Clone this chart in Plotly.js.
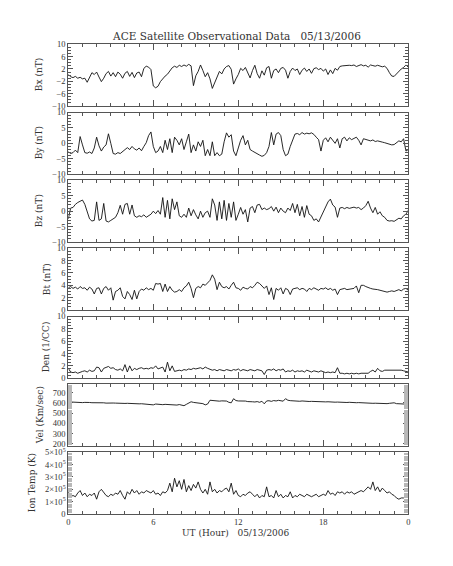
<!DOCTYPE html>
<html>
<head>
<meta charset="utf-8">
<script src="https://cdn.plot.ly/plotly-3.0.1.min.js"></script>
<style>html,body{margin:0;padding:0;background:#fff;}#chart{width:453px;height:566px;}</style>
</head>
<body>
<div id="chart"></div>
<script>
// Sample times: every 10 minutes, 0 to 24 UT hours
const hours = [];
for (let i = 0; i <= 144; i++) hours.push(i / 6);

const bx = [0.2,-0.5,-0.8,-0.4,-1.0,-0.7,-1.2,
 -1.0,-2.3,-0.5,0.8,0.2,1.0,
 -0.6,-2.1,-1.0,0.5,1.2,-0.3,
 0.8,-0.5,1.0,0.3,-1.0,0.6,
 1.2,-0.4,0.9,-0.8,0.7,1.0,
 -0.5,2.2,2.9,2.6,1.8,-3.5,
 -4.1,-3.6,-2.1,-1.0,-0.3,0.3,
 1.5,2.4,2.9,2.5,3.2,2.8,
 3.3,2.9,3.5,3.0,-3.4,-0.2,
 1.2,3.3,1.5,-0.5,0.8,-1.2,
 -4.3,-2.5,-0.8,1.2,0.4,2.0,
 2.8,3.1,1.9,-2.9,-1.2,0.2,
 2.2,1.5,2.5,0.8,-0.9,1.5,
 3.2,0.5,-1.0,1.4,0.0,2.4,
 2.8,-1.0,1.5,2.0,0.8,2.2,
 2.5,1.6,-1.0,1.2,2.3,1.5,
 2.0,0.2,1.6,2.3,1.2,2.0,
 0.6,2.1,2.4,1.8,2.2,1.3,
 2.0,0.2,1.7,0.5,2.2,1.6,
 2.8,3.0,3.1,3.0,3.2,3.1,
 3.3,2.8,3.2,3.4,3.0,3.2,
 2.6,3.3,3.1,2.9,3.2,3.0,
 2.7,2.9,2.2,0.8,-0.3,-0.4,
 0.5,1.2,2.0,2.5,3.3,2.6];

const by = [-2.7,-3.3,-3.0,-2.2,-3.0,2.2,-0.5,
 -3.0,-3.2,-2.8,-3.3,-1.5,2.0,
 -0.8,-2.5,-1.2,-0.5,3.1,0.0,
 -3.3,-3.5,-3.0,-3.3,-2.6,-2.0,
 -1.4,-2.0,-1.0,-1.8,-2.2,-1.5,
 -2.4,-1.0,0.2,2.5,3.7,-1.0,
 -3.0,-2.5,-1.0,-3.0,1.0,-2.0,
 1.5,-3.0,2.0,1.0,-0.5,1.5,
 -2.0,0.5,3.0,-3.0,-0.5,-2.5,
 0.5,-1.0,1.0,-4.0,-2.0,-4.0,
 0.5,-4.0,-3.0,-4.0,-3.5,0.5,
 3.4,2.0,2.8,-2.5,-4.0,-1.5,
 1.0,2.5,-0.5,1.0,-2.0,-2.5,
 -3.0,-3.5,-3.8,-4.2,-3.9,-3.0,
 -1.0,3.5,-0.5,3.0,3.5,2.5,
 -2.0,-4.0,-3.5,-1.0,1.0,3.0,
 3.2,2.8,3.5,3.0,3.3,3.1,
 3.4,2.9,2.0,1.2,-2.5,1.0,
 1.8,0.5,2.0,1.0,0.0,1.5,
 -1.5,1.5,2.0,0.8,1.8,1.2,
 1.5,2.0,1.0,-0.5,1.5,1.2,
 1.0,0.8,1.1,0.6,0.8,0.5,
 0.4,0.2,0.0,-0.3,-0.5,-0.4,
 0.3,0.8,0.5,1.5,-2.5,-2.0];

const bz = [-2.5,1.0,1.2,2.2,2.8,3.3,3.6,
 2.2,-0.5,-2.5,-3.2,-3.0,3.0,
 -3.0,-2.5,2.5,-3.2,-3.5,-3.0,
 -2.5,-2.0,-0.5,1.9,-1.0,2.2,
 2.5,-1.0,2.0,-1.5,-2.0,-1.5,
 -1.8,-1.2,-2.0,-1.5,-1.0,0.0,
 -0.8,0.2,-1.0,4.4,-2.0,3.5,
 -2.5,4.0,0.5,3.0,-1.5,-2.0,
 -1.0,-2.0,1.0,-1.5,0.5,-1.2,
 -2.5,0.0,-2.0,-0.5,0.0,-2.0,
 4.0,2.0,-3.0,3.0,-2.5,3.5,
 -3.0,2.5,-2.0,3.0,-3.0,-1.0,
 1.2,-1.0,0.5,-3.5,1.0,1.5,
 -0.5,2.0,2.2,0.5,1.0,0.5,
 0.8,1.5,0.0,1.3,-0.5,1.0,
 0.0,-0.5,1.0,0.2,2.5,-0.5,
 2.2,-1.5,1.5,-2.0,1.8,-1.0,
 -1.5,-3.0,-2.5,-3.5,-2.0,-0.5,
 1.0,3.0,3.9,2.0,1.3,-2.0,
 1.0,1.2,0.8,1.2,0.9,1.0,
 1.3,1.0,1.2,0.5,1.0,1.8,
 3.2,1.0,-0.5,1.2,-1.0,-0.2,
 -1.5,-2.0,-3.0,-3.2,-3.1,-3.3,
 -2.8,-2.3,-2.5,-1.5,-1.0,0.3];

const bt = [3.6,3.8,3.5,3.7,3.4,3.8,3.5,
 3.6,3.2,3.7,3.4,2.6,3.5,
 3.6,2.6,3.5,3.8,3.2,3.6,
 1.6,3.0,3.2,3.6,2.2,1.8,
 3.0,2.5,1.7,3.2,1.8,3.0,
 3.4,3.2,3.6,3.3,3.5,3.2,
 4.3,4.2,4.3,3.0,4.2,3.0,
 3.8,3.2,2.9,3.0,3.3,3.0,
 3.6,3.9,4.5,3.5,2.0,3.5,
 3.8,3.6,4.2,4.0,4.5,4.8,
 5.7,5.0,3.3,4.5,3.8,3.6,
 3.8,3.4,4.0,4.5,3.6,3.5,
 3.2,3.7,3.5,3.4,3.8,3.6,
 4.0,4.5,4.3,3.8,3.5,3.9,
 2.5,3.6,1.7,3.5,3.2,3.6,
 2.6,3.5,3.3,2.5,3.4,3.5,
 3.6,3.3,3.5,3.4,3.0,3.5,
 3.3,3.6,3.4,3.2,3.5,3.4,
 3.6,3.3,3.5,3.2,3.4,2.5,
 3.3,3.4,3.5,3.3,3.4,3.5,
 3.5,3.9,2.8,4.0,4.0,3.8,
 3.6,3.5,3.4,3.4,3.3,3.2,
 3.1,3.0,2.9,3.0,3.1,3.0,
 3.2,3.3,3.1,3.4,3.5,3.2];

const den = [1.6,1.0,0.9,1.0,0.8,1.0,1.1,
 1.2,1.0,1.3,1.1,1.2,1.8,
 1.7,1.0,1.6,1.8,1.9,1.6,
 1.7,1.4,1.3,1.5,1.2,2.2,
 1.0,2.0,1.2,1.6,1.4,1.6,
 1.7,1.5,1.6,1.5,1.7,1.6,
 2.0,1.5,1.7,1.8,1.0,2.6,
 1.2,2.0,1.1,1.2,1.3,1.2,
 1.4,1.3,1.5,1.4,1.6,1.5,
 1.6,1.7,1.5,1.8,1.6,1.5,
 1.3,1.4,1.2,1.4,1.3,1.2,
 1.4,1.3,1.2,1.4,1.3,1.5,
 1.2,1.4,1.3,1.2,1.4,1.3,
 1.2,1.4,1.3,1.2,0.6,1.3,
 1.4,1.3,1.5,1.2,1.4,1.3,
 1.5,1.0,1.2,1.1,1.3,1.0,
 1.2,1.1,1.2,1.0,1.3,1.1,
 1.0,1.2,1.1,1.0,1.2,1.0,
 0.9,1.0,0.9,1.0,0.9,1.7,
 0.8,0.8,0.7,0.8,0.7,0.8,
 0.7,0.8,0.7,0.8,0.8,0.7,
 0.8,1.1,1.3,1.0,1.6,1.2,
 1.1,1.3,1.3,1.4,1.3,1.3,
 1.4,1.3,1.3,1.2,1.1,1.0];

const vel = [609,607,608,605,603,604,602,
 604,600,603,601,602,599,
 601,598,600,597,599,596,
 598,597,595,598,596,594,
 595,593,596,592,594,590,
 591,588,590,587,586,580,
 588,584,586,582,585,583,
 580,584,581,578,583,576,
 572,585,598,610,604,600,
 603,596,592,580,588,625,
 622,618,620,616,619,615,
 617,605,600,640,622,618,
 620,615,617,612,614,610,
 608,612,605,615,590,618,
 620,614,622,618,624,620,
 616,640,625,621,618,620,
 617,615,618,614,616,613,
 614,612,611,613,610,611,
 609,610,607,608,606,607,
 605,606,604,603,605,602,
 603,601,602,600,601,599,
 598,597,595,596,594,595,
 593,594,592,595,598,600,
 592,590,594,590,588,586];

const temp = [180000,140000,150000,140000,170000,190000,150000,
 170000,140000,160000,150000,170000,120000,
 180000,200000,170000,150000,140000,160000,
 150000,170000,160000,190000,150000,120000,
 180000,160000,200000,170000,190000,160000,
 180000,170000,190000,180000,170000,190000,
 160000,170000,150000,180000,170000,190000,
 250000,180000,290000,220000,270000,200000,
 280000,180000,230000,190000,240000,210000,
 260000,200000,170000,200000,160000,260000,
 180000,200000,170000,190000,180000,200000,
 210000,180000,250000,160000,190000,150000,
 140000,160000,150000,170000,180000,160000,
 140000,160000,130000,150000,140000,220000,
 140000,150000,130000,190000,140000,160000,
 130000,150000,140000,180000,130000,150000,
 140000,160000,150000,140000,160000,150000,
 140000,150000,160000,140000,150000,160000,
 150000,190000,160000,170000,150000,180000,
 170000,180000,160000,180000,170000,180000,
 160000,170000,180000,190000,180000,200000,
 220000,200000,260000,190000,220000,180000,
 210000,190000,170000,180000,160000,150000,
 130000,120000,130000,130000,140000,160000];

const panelTitles = ['Bx (nT)', 'By (nT)', 'Bz (nT)', 'Bt (nT)', 'Den (1/CC)', 'Vel (Km/sec)', 'Ion Temp (K)'];
const yRanges = [[-10, 10], [-10, 10], [-10, 10], [0, 10], [0, 10], [180, 780], [0, 500000]];
const yTick0 = [-10, -10, -10, 0, 0, 200, 0];
const yDtick = [4, 5, 5, 2, 2, 100, 100000];
const yMinorStep = [1, 1, 1, 0.5, 0.5, 10, 10000];
const tempAlias = {'100000': '1\u00d710<sup>5</sup>', '200000': '2\u00d710<sup>5</sup>', '300000': '3\u00d710<sup>5</sup>',
                   '400000': '4\u00d710<sup>5</sup>', '500000': '5\u00d710<sup>5</sup>'};
const xAlias = {'24': '0'};
const titleX = [39, 39, 39, 47, 46, 40, 32];
const series = [bx, by, bz, bt, den, vel, temp];

const W = 453, H = 566;
const plotLeft = 68.3, plotRight = 408.3;
const panelTops = [44.3, 112.5, 180.3, 248.3, 316.5, 384.3, 452.3];
const panelH = 61.7;

const tickFont = {family: 'Liberation Serif, DejaVu Serif, serif', size: 8.5, color: '#333'};
const labFont = {family: 'DejaVu Serif, Liberation Serif, serif', size: 9, color: '#333'};
const axCol = '#555';

const traces = [];
const layout = {
  width: W, height: H,
  margin: {l: 0, r: 0, t: 0, b: 0},
  paper_bgcolor: '#fff', plot_bgcolor: '#fff',
  showlegend: false, hovermode: false,
  font: labFont,
  separators: '.',
  title: {
    text: 'ACE Satellite Observational Data\u00a0\u00a0 05/13/2006',
    font: {family: labFont.family, size: 10.5, color: '#333'},
    x: 237 / W, xanchor: 'center', xref: 'paper',
    y: 1 - 36 / H, yanchor: 'middle', yref: 'container'
  },
  annotations: []
};

for (let k = 0; k < 7; k++) {
  const n = k === 0 ? '' : String(k + 1);
  const mx = String(8 + k);   // minor-tick overlay axes
  traces.push({
    x: hours, y: series[k], type: 'scatter', mode: 'lines',
    xaxis: 'x' + n, yaxis: 'y' + n,
    line: {color: '#111', width: 0.9}
  });
  // empty traces so the minor-tick overlay axes are drawn
  traces.push({x: [], y: [], type: 'scatter', mode: 'lines', xaxis: 'x' + mx, yaxis: 'y' + n, showlegend: false});
  traces.push({x: [], y: [], type: 'scatter', mode: 'lines', xaxis: 'x' + n, yaxis: 'y' + mx, showlegend: false});

  const top = 1 - panelTops[k] / H;
  const bot = 1 - (panelTops[k] + panelH) / H;
  layout['xaxis' + n] = {
    domain: [plotLeft / W, plotRight / W],
    anchor: 'y' + n,
    range: [0, 24],
    tickmode: 'linear', tick0: 0, dtick: 6,
    labelalias: xAlias,
    showticklabels: k === 6,
    ticks: 'inside', ticklen: 6, tickwidth: 1, tickcolor: axCol,
    showline: true, linecolor: axCol, linewidth: 1, mirror: 'ticks',
    showgrid: false, zeroline: false,
    tickfont: tickFont
  };
  layout['xaxis' + mx] = {
    overlaying: 'x' + n, anchor: 'y' + n,
    range: [0, 24],
    tickmode: 'linear', tick0: 0, dtick: 1,
    showticklabels: false,
    ticks: 'inside', ticklen: 3, tickwidth: 1, tickcolor: axCol,
    showline: false, mirror: 'ticks',
    showgrid: false, zeroline: false
  };
  layout['yaxis' + n] = {
    domain: [bot, top],
    anchor: 'x' + n,
    range: yRanges[k],
    tickmode: 'linear', tick0: yTick0[k], dtick: yDtick[k],
    exponentformat: 'none', separatethousands: false,
    labelalias: (k === 6 ? tempAlias : {}),
    ticks: 'inside', ticklen: 5, tickwidth: 1, tickcolor: axCol,
    showline: true, linecolor: axCol, linewidth: 1, mirror: 'ticks',
    showgrid: false, zeroline: false,
    tickfont: tickFont
  };
  layout['yaxis' + mx] = {
    overlaying: 'y' + n, anchor: 'x' + n,
    range: yRanges[k],
    tickmode: 'linear', tick0: yTick0[k], dtick: yMinorStep[k],
    showticklabels: false,
    ticks: 'inside', ticklen: (k >= 5 ? 4 : 3), tickwidth: 1, tickcolor: (k >= 5 ? '#b8b8b8' : axCol),
    showline: false, mirror: 'ticks',
    showgrid: false, zeroline: false
  };
  layout.annotations.push({
    text: panelTitles[k], textangle: -90,
    xref: 'paper', yref: 'paper',
    x: titleX[k] / W, y: (top + bot) / 2, xanchor: 'center', yanchor: 'middle',
    showarrow: false, font: labFont
  });
}
layout.annotations.push({
  text: 'UT (Hour)\u00a0\u00a0 05/13/2006',
  xref: 'paper', yref: 'paper',
  x: 236 / W, y: 1 - 533 / H, xanchor: 'center', yanchor: 'middle',
  showarrow: false, font: labFont
});

Plotly.newPlot('chart', traces, layout, {staticPlot: true, displayModeBar: false});
</script>
</body>
</html>
